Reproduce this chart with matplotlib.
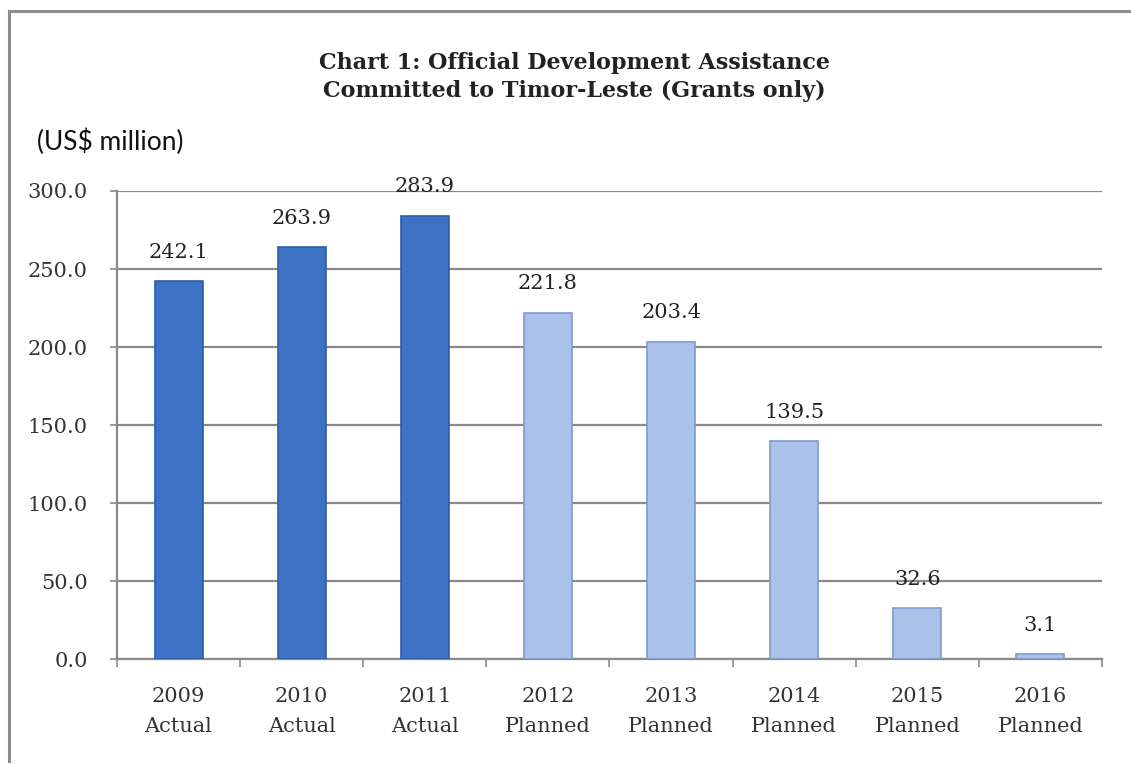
import matplotlib
matplotlib.use("Agg")
import matplotlib.pyplot as plt
from matplotlib.lines import Line2D

# data
years = ["2009", "2010", "2011", "2012", "2013", "2014", "2015", "2016"]
status = ["Actual", "Actual", "Actual", "Planned", "Planned", "Planned", "Planned", "Planned"]
values = [242.1, 263.9, 283.9, 221.8, 203.4, 139.5, 32.6, 3.1]
yticks = [0, 50, 100, 150, 200, 250, 300]

serif = "DejaVu Serif"

fig = plt.figure(figsize=(11.31, 7.64), dpi=100)
ax = fig.add_axes([0.1034, 0.1374, 0.871, 0.6126])

colors = ["#3d72c4" if s == "Actual" else "#aac2ea" for s in status]
edges = ["#2f5ea8" if s == "Actual" else "#7f9bd0" for s in status]
x = list(range(len(years)))
ax.bar(x, values, width=0.39, color=colors, edgecolor=edges, linewidth=1.2, zorder=3)

# value labels
for xi, v in zip(x, values):
    ax.annotate(f"{v:.1f}", (xi, v), xytext=(0, 21), textcoords="offset points",
                ha="center", va="center", fontsize=15, family=serif, color="#222222", zorder=4)

ax.set_xlim(-0.5, len(years) - 0.5)
ax.set_ylim(0, 300)
ax.set_yticks(yticks)
ax.set_yticklabels([f"{t:.1f}" for t in yticks], family=serif, fontsize=15, color="#333333")
ax.yaxis.grid(True, color="#8a8a8a", linewidth=1.6, zorder=0)
ax.tick_params(axis="y", length=5, width=1.2, color="#8a8a8a", pad=16)

# major ticks on category boundaries, labels at centers
ax.set_xticks([i - 0.5 for i in range(len(years) + 1)])
ax.set_xticklabels([])
ax.set_xticks(x, minor=True)
ax.set_xticklabels([f"{y}\n{s}" for y, s in zip(years, status)], minor=True,
                   family=serif, fontsize=15, color="#333333", linespacing=1.75)
ax.tick_params(axis="x", which="major", length=6, width=1.2, color="#8a8a8a")
ax.tick_params(axis="x", which="minor", length=0, pad=20)

for side in ["top", "right"]:
    ax.spines[side].set_visible(False)
for side in ["left", "bottom"]:
    ax.spines[side].set_color("#8a8a8a")
    ax.spines[side].set_linewidth(1.6)

fig.text(0.508, 0.899, "Chart 1: Official Development Assistance\nCommitted to Timor-Leste (Grants only)",
         ha="center", va="center", fontsize=16, fontweight="bold", family=serif,
         color="#222222", linespacing=1.35)
fig.text(0.033, 0.814, "(US$ million)", ha="left", va="center", fontsize=19, family="Lato", color="#111111")

# frame around the picture
fig.add_artist(Line2D([0.008, 1.0], [0.986, 0.986], color="#8c8c8c", linewidth=2.2, transform=fig.transFigure))
fig.add_artist(Line2D([0.008, 0.008], [0.004, 0.986], color="#8c8c8c", linewidth=2.2, transform=fig.transFigure))

fig.savefig("out.png", dpi=100)
